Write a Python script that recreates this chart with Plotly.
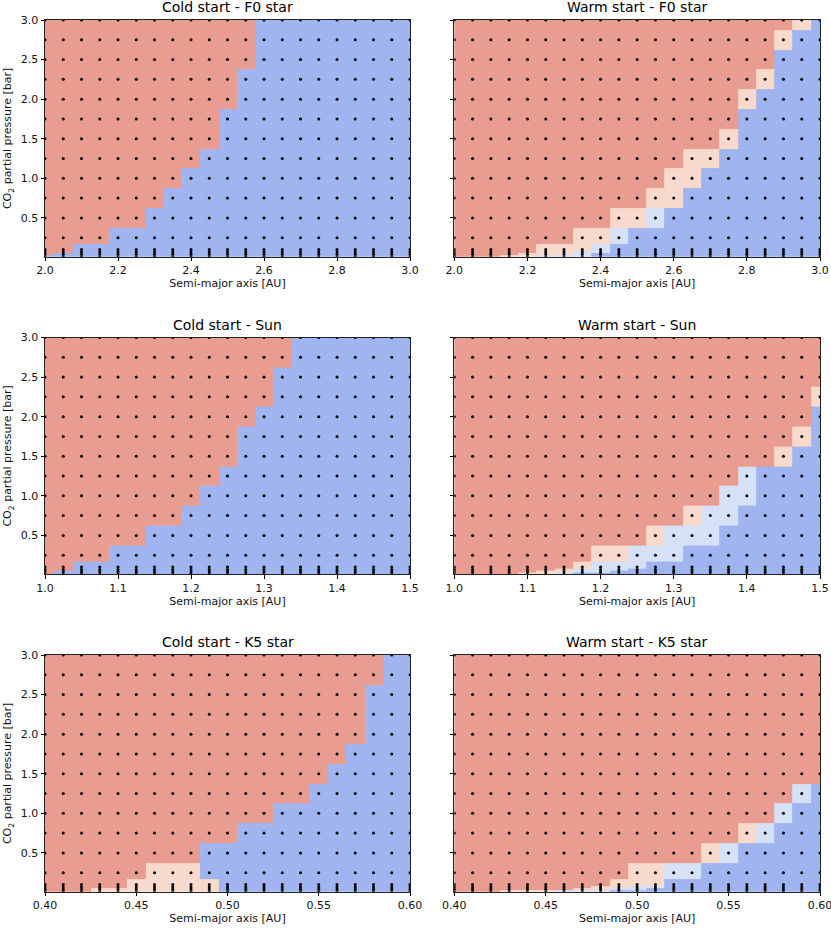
import plotly.graph_objects as go

# ---------------- data ----------------
x_f0 = [2.00, 2.05, 2.10, 2.15, 2.20, 2.25, 2.30, 2.35, 2.40, 2.45, 2.50,
        2.55, 2.60, 2.65, 2.70, 2.75, 2.80, 2.85, 2.90, 2.95, 3.00]
x_sun = [1.000, 1.025, 1.050, 1.075, 1.100, 1.125, 1.150, 1.175, 1.200, 1.225, 1.250,
         1.275, 1.300, 1.325, 1.350, 1.375, 1.400, 1.425, 1.450, 1.475, 1.500]
x_k5 = [0.40, 0.41, 0.42, 0.43, 0.44, 0.45, 0.46, 0.47, 0.48, 0.49, 0.50,
        0.51, 0.52, 0.53, 0.54, 0.55, 0.56, 0.57, 0.58, 0.59, 0.60]
y_pco2 = [0.01, 0.04, 0.07, 0.1, 0.25, 0.5, 0.75, 1.0, 1.25, 1.5,
          1.75, 2.0, 2.25, 2.5, 2.75, 3.0]

# For each pCO2 level (bottom -> top): number of columns (from the left) that are
# warm, then warm-transitional (peach), then cold-transitional (light blue); rest cold.
cold_f0 = [(0, 0, 0), (1, 0, 0), (2, 0, 0), (2, 0, 0), (4, 0, 0), (6, 0, 0),
           (7, 0, 0), (8, 0, 0), (9, 0, 0), (10, 0, 0), (10, 0, 0), (11, 0, 0), (11, 0, 0),
           (12, 0, 0), (12, 0, 0), (12, 0, 0)]
warm_f0 = [(3, 2, 3), (4, 3, 1), (5, 2, 2), (5, 3, 1), (7, 2, 1), (9, 2, 1),
           (11, 2, 0), (12, 2, 0), (13, 2, 0), (15, 1, 0), (16, 0, 0), (16, 1, 0), (17, 1, 0),
           (18, 0, 0), (18, 1, 0), (19, 1, 0)]
cold_sun = [(1, 0, 0), (1, 0, 0), (2, 0, 0), (2, 0, 0), (4, 0, 0), (6, 0, 0),
            (8, 0, 0), (9, 0, 0), (10, 0, 0), (11, 0, 0), (11, 0, 0), (12, 0, 0), (13, 0, 0),
            (13, 0, 0), (14, 0, 0), (14, 0, 0)]
warm_sun = [(4, 2, 1), (5, 2, 2), (6, 1, 3), (7, 1, 3), (8, 2, 3), (11, 1, 3),
            (13, 1, 2), (15, 0, 2), (16, 0, 1), (18, 1, 0), (19, 1, 0), (20, 0, 0), (20, 1, 0),
            (21, 0, 0), (21, 0, 0), (21, 0, 0)]
cold_k5 = [(3, 7, 0), (3, 7, 0), (5, 5, 0), (5, 5, 0), (6, 3, 0), (9, 0, 0),
           (11, 0, 0), (13, 0, 0), (15, 0, 0), (16, 0, 0), (17, 0, 0), (18, 0, 0), (18, 0, 0),
           (18, 0, 0), (19, 0, 0), (19, 0, 0)]
warm_k5 = [(3, 3, 3), (7, 2, 2), (8, 2, 2), (9, 3, 0), (10, 2, 2), (14, 1, 1),
           (16, 1, 1), (18, 0, 1), (19, 0, 1), (21, 0, 0), (21, 0, 0), (21, 0, 0), (21, 0, 0),
           (21, 0, 0), (21, 0, 0), (21, 0, 0)]

titles = ["Cold start - F0 star", "Warm start - F0 star",
          "Cold start - Sun", "Warm start - Sun",
          "Cold start - K5 star", "Warm start - K5 star"]
panels = [(x_f0, cold_f0), (x_f0, warm_f0), (x_sun, cold_sun), (x_sun, warm_sun),
          (x_k5, cold_k5), (x_k5, warm_k5)]
x_ticks = {
    "f0": [2.0, 2.2, 2.4, 2.6, 2.8, 3.0],
    "sun": [1.0, 1.1, 1.2, 1.3, 1.4, 1.5],
    "k5": [0.40, 0.45, 0.50, 0.55, 0.60],
}
y_ticks = [0.5, 1.0, 1.5, 2.0, 2.5, 3.0]

# ---------------- styling ----------------
C_COLD = "#a0b4ef"
C_COLD_T = "#d5e1f7"
C_WARM_T = "#f7dacb"
C_WARM = "#e99c90"
FONT = "DejaVu Sans"

W, H = 831, 930
xdoms = [[45 / W, 410 / W], [454.3 / W, 820 / W]]
row_px = [(20, 256.7), (337.5, 574.2), (655, 891.7)]
ydoms = [[1 - b / H, 1 - t / H] for t, b in row_px]

fig = go.Figure()
layout = dict(
    width=W, height=H, margin=dict(l=0, r=0, t=0, b=0),
    paper_bgcolor="white", plot_bgcolor="white", showlegend=False,
    font=dict(family=FONT, size=11, color="black"),
)
annotations = []

for k, ((xs, spec), title) in enumerate(zip(panels, titles)):
    r, c = divmod(k, 2)
    n = len(xs)
    z = []
    for nr, npk, nl in spec:
        z.append([3] * nr + [2] * npk + [1] * nl + [0] * (n - nr - npk - nl))
    idx = "" if k == 0 else str(k + 1)
    xa, ya = "x" + idx, "y" + idx
    fig.add_trace(go.Heatmap(
        x=xs, y=y_pco2, z=z, zmin=0, zmax=3, zsmooth=False, showscale=False,
        colorscale=[[0, C_COLD], [1 / 3, C_COLD_T], [2 / 3, C_WARM_T], [1, C_WARM]],
        hoverinfo="skip", xaxis=xa, yaxis=ya))
    px, py = [], []
    for yv in y_pco2:
        for xv in xs:
            px.append(xv)
            py.append(yv)
    fig.add_trace(go.Scatter(
        x=px, y=py, mode="markers", marker=dict(size=3, color="black"),
        hoverinfo="skip", cliponaxis=True, xaxis=xa, yaxis=ya))

    key = ["f0", "sun", "k5"][r]
    tv = x_ticks[key]
    if key == "k5":
        tt = ["%.2f" % v for v in tv]
    else:
        tt = ["%.1f" % v for v in tv]
    layout["xaxis" + idx] = dict(
        domain=xdoms[c], anchor=ya, range=[xs[0], xs[-1]],
        tickmode="array", tickvals=tv, ticktext=tt, ticklabeloverflow="allow",
        ticks="outside", ticklen=3.5, tickwidth=0.8, tickcolor="black",
        showline=True, linecolor="#222", linewidth=1, mirror=True,
        showgrid=False, zeroline=False, automargin=False,
        tickfont=dict(size=11, family=FONT, color="#111"),
        title=dict(text="Semi-major axis [AU]", font=dict(size=11, family=FONT, color="#111"),
                   standoff=2))
    yax = dict(
        domain=ydoms[r], anchor=xa, range=[y_pco2[0], y_pco2[-1]],
        tickmode="array", tickvals=y_ticks, ticktext=["%.1f" % v for v in y_ticks],
        showticklabels=(c == 0), ticklabeloverflow="allow",
        ticks="outside", ticklen=3.5, tickwidth=0.8, tickcolor="black",
        showline=True, linecolor="#222", linewidth=1, mirror=True,
        showgrid=False, zeroline=False, automargin=False,
        tickfont=dict(size=11, family=FONT, color="#111"))
    if c == 0:
        yax["title"] = dict(text="CO<sub>2</sub> partial pressure [bar]",
                            font=dict(size=11, family=FONT, color="#111"), standoff=6)
    layout["yaxis" + idx] = yax
    annotations.append(dict(
        text=title, xref="paper", yref="paper",
        x=(xdoms[c][0] + xdoms[c][1]) / 2, y=ydoms[r][1],
        xanchor="center", yanchor="bottom", yshift=3, showarrow=False,
        font=dict(size=14, family=FONT, color="black")))

layout["annotations"] = annotations
fig.update_layout(**layout)
fig.write_html("out.html", config={"displayModeBar": False},
               post_script="document.body.style.margin='0';"
                           "document.body.style.overflow='hidden';")
